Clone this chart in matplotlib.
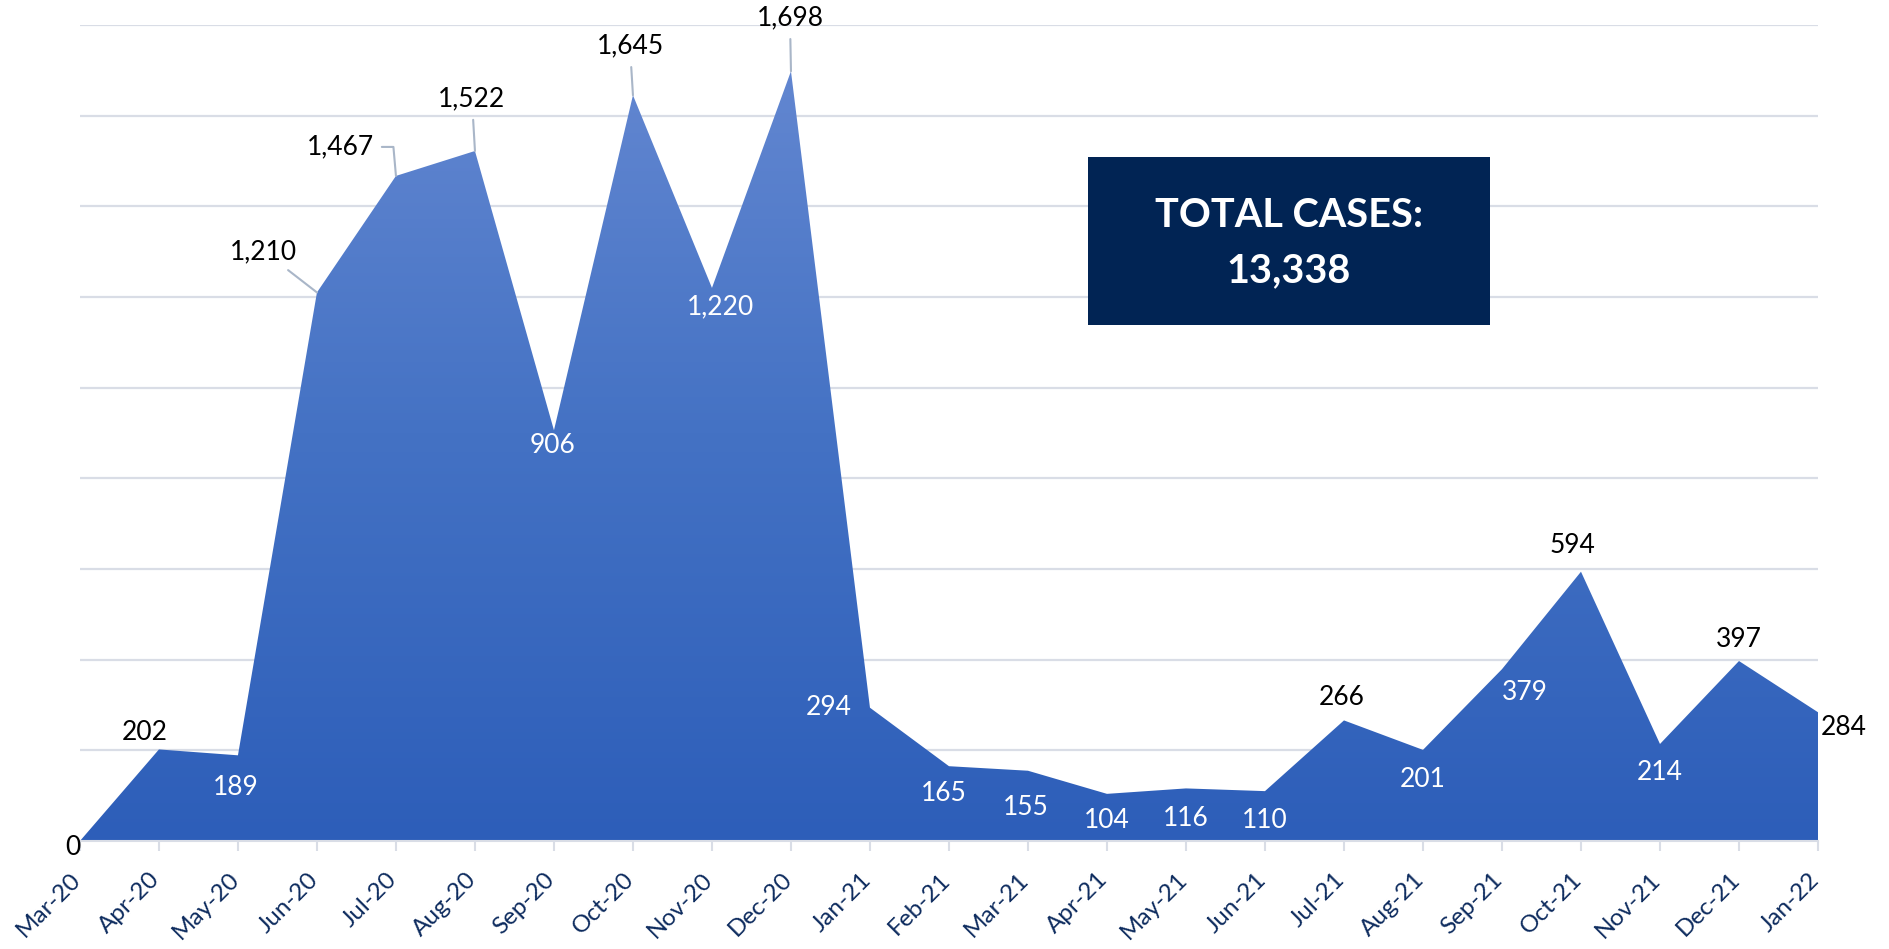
import numpy as np
import matplotlib.pyplot as plt
import matplotlib.transforms as mtransforms
from matplotlib.patches import Polygon, Rectangle
from matplotlib.colors import LinearSegmentedColormap

plt.rcParams['font.family'] = ['Lato', 'DejaVu Sans']

# Data
months = [
    "Mar-20", "Apr-20", "May-20", "Jun-20", "Jul-20", "Aug-20", "Sep-20", "Oct-20",
    "Nov-20", "Dec-20", "Jan-21", "Feb-21", "Mar-21", "Apr-21", "May-21", "Jun-21",
    "Jul-21", "Aug-21", "Sep-21", "Oct-21", "Nov-21", "Dec-21", "Jan-22"
]
cases = [0, 202, 189, 1210, 1467, 1522, 906, 1645, 1220, 1698, 294, 165, 155,
         104, 116, 110, 266, 201, 379, 594, 214, 397, 284]
total = sum(cases)

# label placement: (dx, dy) in pixels, whether inside the area (white text), leader line
label_offsets = [(-7, -6), (-14, 17), (-2, -32), (-53, 41), (-56, 29), (-3, 52),
                 (-1, -15), (-3, 49), (9, -19), (-1, 53), (-41, 0), (-5, -27),
                 (-2, -37), (0, -27), (0, -30), (0, -29), (-2, 23), (0, -30),
                 (23, -23), (-8, 26), (0, -29), (0, 22), (26, -15)]
inside = [False, False, True, False, False, False, True, False, True, False, True,
          True, True, True, True, True, False, True, True, False, True, False, False]
leaders = {3: "arc3", 4: "angle,angleA=0,angleB=95,rad=0", 5: "arc3", 7: "arc3", 9: "arc3"}

fig = plt.figure(figsize=(18.9, 9.49), dpi=100)
ax = fig.add_axes([0.0423, 0.1138, 0.9196, 0.8599])

x = np.arange(len(months))
y = np.array(cases)

# gridlines
for g in range(200, 1801, 200):
    ax.axhline(g, color="#D9DDE6", lw=1.6, zorder=0)

# gradient filled area
cmap = LinearSegmentedColormap.from_list("blues", ["#2D5EB9", "#4472C4", "#6689D2"])
grad = np.linspace(0, 1, 256).reshape(-1, 1)
img = ax.imshow(grad, extent=[0, len(months) - 1, 0, 1800], origin="lower",
                aspect="auto", cmap=cmap, zorder=1)
verts = np.column_stack([np.r_[x, x[-1], x[0]], np.r_[y, 0, 0]])
poly = Polygon(verts, closed=True, facecolor="none", edgecolor="none")
ax.add_patch(poly)
img.set_clip_path(poly)

# data labels
for i, v in enumerate(cases):
    dx, dy = label_offsets[i]
    arrow = None
    if i in leaders:
        arrow = dict(arrowstyle="-", color="#A9B6C8", lw=1.5,
                     connectionstyle=leaders[i], shrinkA=4, shrinkB=0)
    ax.annotate(f"{v:,}", xy=(i, v), xytext=(dx, dy), textcoords="offset pixels",
                ha="center", va="center", fontsize=19,
                color="white" if inside[i] else "black",
                arrowprops=arrow, zorder=5)

ax.set_xlim(0, len(months) - 1)
ax.set_ylim(0, 1800)
ax.set_yticks([])
ax.set_xticks(x)
ax.set_xticklabels(months, rotation=45, ha="right", fontsize=17.5, color="#0D2B5E")
ax.tick_params(axis="x", length=7, width=1.5, color="#D9DDE6", pad=13)
shift = mtransforms.ScaledTranslation(0.05, 0, fig.dpi_scale_trans)
for lbl in ax.get_xticklabels():
    lbl.set_transform(lbl.get_transform() + shift)
for s in ["top", "right", "left"]:
    ax.spines[s].set_visible(False)
ax.spines["bottom"].set_color("#D9DDE6")
ax.spines["bottom"].set_linewidth(1.5)

# total box
fig.patches.append(Rectangle((0.5757, 0.6575), 0.2127, 0.177, transform=fig.transFigure,
                             facecolor="#012454", edgecolor="none", zorder=3))
fig.text(0.682, 0.7734, "TOTAL CASES:", ha="center", va="center", fontsize=28.5,
         fontweight="bold", color="white", zorder=4)
fig.text(0.682, 0.7144, f"{total:,}", ha="center", va="center", fontsize=28.5,
         fontweight="bold", color="white", zorder=4)

fig.savefig("out.png", dpi=100)
